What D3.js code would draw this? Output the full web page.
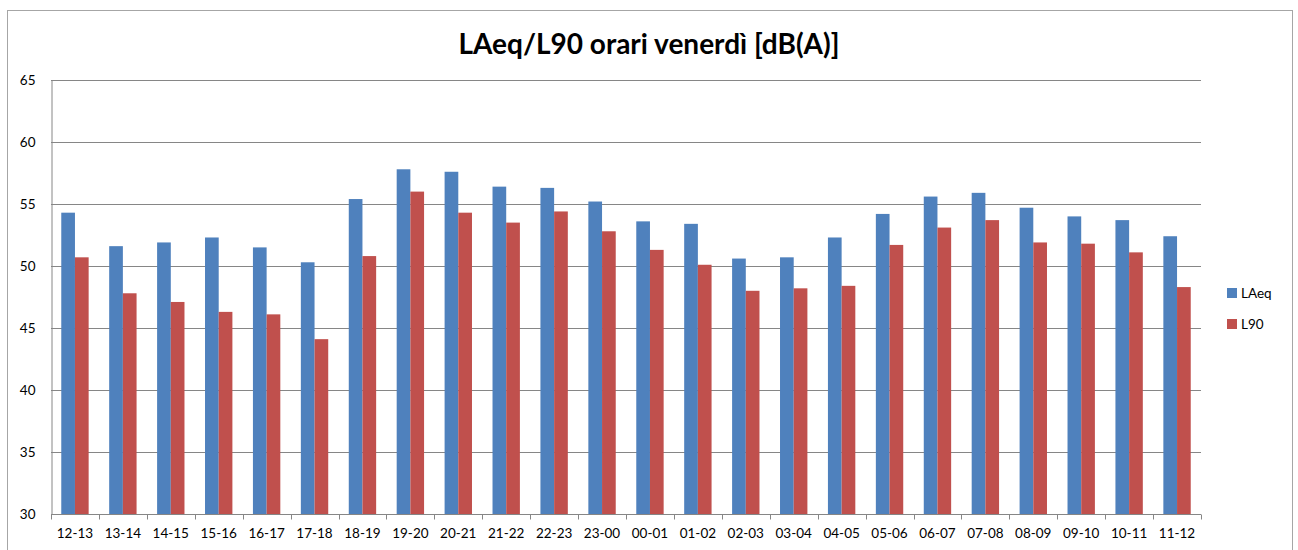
<!DOCTYPE html>
<html>
<head>
<meta charset="utf-8">
<script src="https://cdn.jsdelivr.net/npm/d3@7"></script>
<style>
  body { margin: 0; background: #fff; }
  svg { display: block; font-family: Lato, "Open Sans", sans-serif; }
</style>
</head>
<body>
<svg id="chart" width="1298" height="550"></svg>
<script>
// hours (friday)
const hours = ['12-13','13-14','14-15','15-16','16-17','17-18','18-19','19-20','20-21','21-22','22-23','23-00',
  '00-01','01-02','02-03','03-04','04-05','05-06','06-07','07-08','08-09','09-10','10-11','11-12'];
const laeq = [54.3,51.6,51.9,52.3,51.5,50.3,55.4,57.8,57.6,56.4,56.3,55.2,
  53.6,53.4,50.6,50.7,52.3,54.2,55.6,55.9,54.7,54.0,53.7,52.4];
const l90 = [50.7,47.8,47.1,46.3,46.1,44.1,50.8,56.0,54.3,53.5,54.4,52.8,
  51.3,50.1,48.0,48.2,48.4,51.7,53.1,53.7,51.9,51.8,51.1,48.3];
const seriesNames = ['LAeq','L90'];
const colors = ['#4F81BD','#C0504D'];
const yTicks = [30,35,40,45,50,55,60,65];

const svg = d3.select('#chart');
const margin = {left: 51, right: 97, top: 80, bottom: 36};
const W = 1298, H = 550;

// outer frame
svg.append('rect').attr('x',7.5).attr('y',10.5).attr('width',1285).attr('height',560)
  .attr('fill','none').attr('stroke','#a6a6a6');

svg.append('text').attr('x',649).attr('y',54).attr('text-anchor','middle')
  .attr('font-size',28).attr('font-weight','bold').attr('fill','#000')
  .text('LAeq/L90 orari venerdì [dB(A)]');

const x = d3.scaleBand().domain(hours).range([margin.left, W - margin.right])
  .paddingInner(1.5/3.5).paddingOuter(0.75/3.5);
const xs = d3.scaleBand().domain(seriesNames).range([0, x.bandwidth()]);
const y = d3.scaleLinear().domain([30,65]).range([H - margin.bottom, margin.top]);

// grid
svg.append('g').selectAll('line').data(yTicks.slice(1)).enter().append('line')
  .attr('x1', margin.left).attr('x2', W - margin.right)
  .attr('y1', d => Math.round(y(d)) + 0.5).attr('y2', d => Math.round(y(d)) + 0.5)
  .attr('stroke','#868686');

// bars
const groups = svg.append('g').selectAll('g').data(hours).enter().append('g')
  .attr('transform', d => `translate(${x(d)},0)`);
groups.selectAll('rect').data((d,i) => [{k:'LAeq', v:laeq[i]},{k:'L90', v:l90[i]}]).enter().append('rect')
  .attr('x', d => xs(d.k)).attr('width', xs.bandwidth())
  .attr('y', d => y(d.v)).attr('height', d => y(30) - y(d.v))
  .attr('fill', (d,i) => colors[i]);

// y axis
const yAxis = svg.append('g').attr('transform', `translate(${margin.left + 0.5},0)`)
  .call(d3.axisLeft(y).tickValues(yTicks).tickSize(0).tickPadding(16));
yAxis.select('.domain').attr('stroke','#868686');
yAxis.selectAll('text').attr('font-size',13.5).attr('font-family','Lato, sans-serif').attr('fill','#000');

// x axis with ticks at category boundaries
const bottom = Math.round(y(30)) + 0.5;
svg.append('line').attr('x1', margin.left).attr('x2', W - margin.right)
  .attr('y1', bottom).attr('y2', bottom).attr('stroke','#868686');
const step = x.step();
svg.append('g').selectAll('line').data(d3.range(hours.length + 1)).enter().append('line')
  .attr('x1', i => Math.round(margin.left + i * step) + 0.5)
  .attr('x2', i => Math.round(margin.left + i * step) + 0.5)
  .attr('y1', bottom).attr('y2', bottom + 5).attr('stroke','#868686');
svg.append('g').selectAll('text').data(hours).enter().append('text')
  .attr('x', d => x(d) + x.bandwidth()/2).attr('y', bottom + 23)
  .attr('text-anchor','middle').attr('font-size',13.5).attr('fill','#000')
  .text(d => d);

// legend
const legend = svg.append('g').selectAll('g').data(seriesNames).enter().append('g')
  .attr('transform', (d,i) => `translate(1227,${288 + i*31})`);
legend.append('rect').attr('width',10).attr('height',10).attr('fill', (d,i) => colors[i]);
legend.append('text').attr('x',14).attr('y',10).attr('font-size',13.5).attr('fill','#000').text(d => d);
</script>
</body>
</html>
